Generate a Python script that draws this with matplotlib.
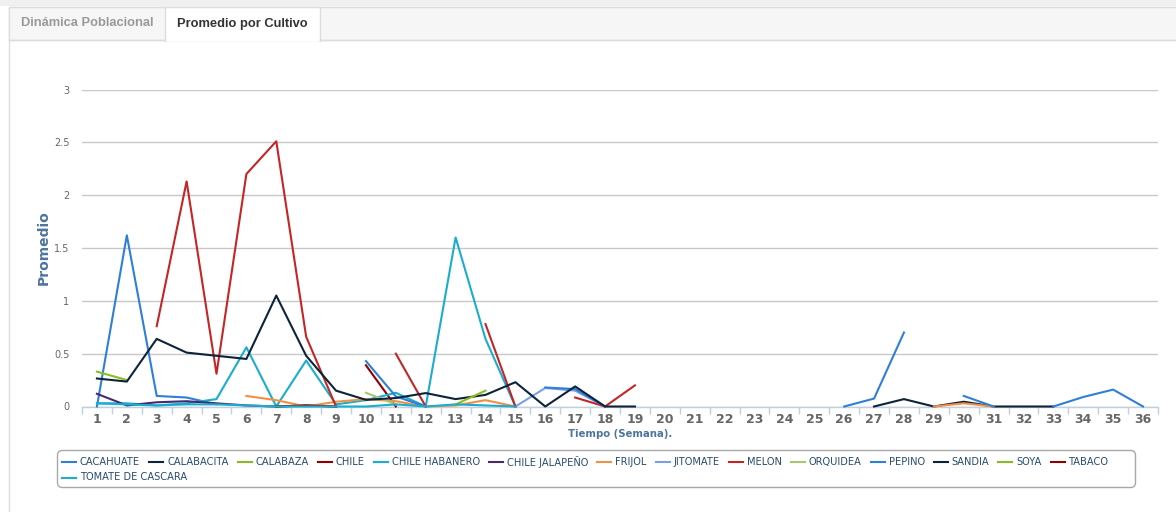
import numpy as np
import matplotlib
matplotlib.use("Agg")
import matplotlib.pyplot as plt
from matplotlib.patches import Rectangle, FancyBboxPatch

N = None
weeks = list(range(1, 37))
week_labels = [str(w) for w in weeks]

cacahuate = [0, 1.62, 0.10, 0.085, 0.02] + [N] * 31
calabacita = [N] * 26 + [0, 0.07, 0, 0.045, 0, 0, 0] + [N] * 3
calabaza = [0.33, 0.25] + [N] * 34
chile = [N] * 9 + [0.39, 0] + [N] * 25
chile_habanero = [0.03, 0.03, 0.01, 0.03, 0.07, 0.56, 0, 0.435, 0.02, 0.06, 0.13, 0, 1.6, 0.64, 0] + [N] * 21
chile_jalapeno = [0.12, 0.01, 0.04, 0.05, 0.03, 0.01, 0, 0.01, 0] + [N] * 27
frijol = [N] * 5 + [0.10, 0.06, 0, 0.045, 0.07, 0.05, 0, 0.01, 0.06, 0] + [N] * 13 + [0, 0.03, 0] + [N] * 5
jitomate = [N] * 14 + [0, 0.175, 0.15, 0] + [N] * 18
melon = [N, N, 0.76, 2.13, 0.31, 2.2, 2.51, 0.66, 0, N, 0.5, 0, N, 0.78, 0, N, 0.085, 0, 0.2] + [N] * 17
orquidea = [N] * 9 + [0.13, 0.02] + [N] * 25
pepino = ([N] * 9 + [0.43, 0.095, 0] + [N] * 3 + [0.18, 0.165, 0] + [N] * 7
          + [0, 0.075, 0.70] + [N] + [0.1, 0] + [N] + [0, 0.09, 0.16, 0])
sandia = [0.265, 0.236, 0.64, 0.51, 0.48, 0.45, 1.05, 0.48, 0.15, 0.063, 0.08, 0.127,
          0.07, 0.11, 0.23, 0, 0.19, 0, 0] + [N] * 17
soya = [N] * 12 + [0.02, 0.15] + [N] * 22
tabaco = [N] * 6 + [0, 0.01, 0] + [N] * 27
tomate_cascara = [0.03, 0.02, 0.01, 0.02, 0.02, 0.01, 0, 0, 0, 0, 0.02, 0, 0.02, 0.01, 0] + [N] * 21

series_names = ["CACAHUATE", "CALABACITA", "CALABAZA", "CHILE", "CHILE HABANERO",
                "CHILE JALAPEÑO", "FRIJOL", "JITOMATE", "MELON", "ORQUIDEA", "PEPINO",
                "SANDIA", "SOYA", "TABACO", "TOMATE DE CASCARA"]
series_values = [cacahuate, calabacita, calabaza, chile, chile_habanero, chile_jalapeno,
                 frijol, jitomate, melon, orquidea, pepino, sandia, soya, tabaco, tomate_cascara]
series_colors = ['#2f7ed8', '#0d233a', '#8bbc21', '#910000', '#1aadce', '#492970',
                 '#f28f43', '#77a1e5', '#c42525', '#a6c96a', '#2f7ed8', '#0d233a',
                 '#8bbc21', '#910000', '#1aadce']

W, H = 1176, 512
fig = plt.figure(figsize=(W / 100, H / 100), dpi=100)
fig.patch.set_facecolor('white')

# Background / frame (pixel coords)
bg = fig.add_axes([0, 0, 1, 1], zorder=0)
bg.set_xlim(0, W)
bg.set_ylim(H, 0)
bg.axis('off')
bg.add_patch(Rectangle((0, 0), W, 6, facecolor='#f0f0f0', edgecolor='none'))
bg.add_patch(Rectangle((8.5, 6.5), W, H, facecolor='white', edgecolor='#dddddd', lw=1))
bg.add_patch(Rectangle((8.5, 6.5), W, 33.5, facecolor='#f6f6f6', edgecolor='#dddddd', lw=1))
bg.add_patch(Rectangle((165, 7), 155, 34, facecolor='white', edgecolor='none'))
bg.plot([165, 165, 320, 320], [41, 7, 7, 41], color='#dddddd', lw=1)
bg.plot([8.5, 165], [40, 40], color='#dddddd', lw=1)
bg.plot([320, W], [40, 40], color='#dddddd', lw=1)
bg.text(87, 23.5, "Dinámica Poblacional", ha='center', va='center', fontsize=9.3,
        fontweight='bold', color='#999999', family='Liberation Sans')
bg.text(242, 23.5, "Promedio por Cultivo", ha='center', va='center', fontsize=9.3,
        fontweight='bold', color='#333333', family='Liberation Sans')

# Main chart
left, right, top, bottom = 82, 1158, 89.5, 406.5
ax = fig.add_axes([left / W, 1 - bottom / H, (right - left) / W, (bottom - top) / H], zorder=2)
ax.patch.set_alpha(0)
x = np.arange(len(weeks))
for name, vals, col in zip(series_names, series_values, series_colors):
    y = np.array([np.nan if v is None else v for v in vals], dtype=float)
    ax.plot(x, y, color=col, lw=1.5, label=name, solid_joinstyle='round', clip_on=False)

ax.set_xlim(-0.5, len(weeks) - 0.5)
ax.set_ylim(0, 3)
ax.set_yticks([0, 0.5, 1, 1.5, 2, 2.5, 3])
ax.set_yticklabels(['0', '0.5', '1', '1.5', '2', '2.5', '3'])
ax.grid(axis='y', color='#c8c8c8', lw=1)
ax.set_axisbelow(True)
for s in ['top', 'right', 'left']:
    ax.spines[s].set_visible(False)
ax.spines['bottom'].set_color('#c0d0e0')
ax.spines['bottom'].set_linewidth(1)
ax.spines['bottom'].set_zorder(0.5)
ax.set_xticks(x)
ax.set_xticklabels(week_labels)
ax.set_xticks(np.arange(len(weeks) + 1) - 0.5, minor=True)
ax.tick_params(axis='x', which='major', length=0, pad=5, labelsize=9, labelcolor='#666666')
ax.tick_params(axis='x', which='minor', length=5, color='#c0d0e0', width=1)
ax.tick_params(axis='y', length=0, pad=9, labelsize=7, labelcolor='#666666')
for t in ax.get_xticklabels():
    t.set_fontweight('bold')
ax.set_ylabel("Promedio", fontsize=10, fontweight='bold', color='#4d759e')
ax.yaxis.set_label_coords((44 - left) / (right - left), 0.5)
ax.yaxis.label.set_va('center')
ax.set_xlabel("Tiempo (Semana).", fontsize=7.3, fontweight='bold', color='#4d759e')
ax.xaxis.set_label_coords(0.5, -(434 - bottom) / (bottom - top))
ax.xaxis.label.set_va('center')

# Legend (Highcharts-like flow layout)
bg.add_patch(FancyBboxPatch((57.5, 450.5), 1078, 37, boxstyle="round,pad=0,rounding_size=5",
                            facecolor='white', edgecolor='#a8a8a8', lw=1))
fig.canvas.draw()
renderer = fig.canvas.get_renderer()
lx, ly = 62, 462
row_h = 15.5
for name, col in zip(series_names, series_colors):
    t = bg.text(0, 0, name, fontsize=7.1, color='#274b6d', va='center', ha='left')
    wpx = t.get_window_extent(renderer).width
    if lx + 18 + wpx > 1132:
        lx = 62
        ly += row_h
    bg.plot([lx, lx + 14], [ly, ly], color=col, lw=1.5)
    t.set_position((lx + 18, ly))
    lx += 18 + wpx + 9

fig.savefig("out.png", dpi=100)
